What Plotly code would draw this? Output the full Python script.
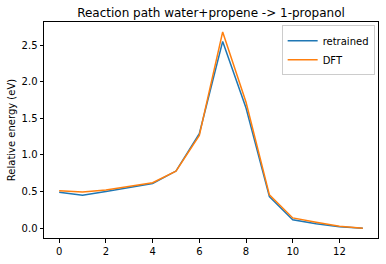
import plotly.graph_objects as go

steps = list(range(14))
retrained = [0.49, 0.45, 0.50, 0.56, 0.61, 0.78, 1.29, 2.55, 1.64, 0.43, 0.115, 0.06, 0.02, 0.0]
dft = [0.51, 0.495, 0.52, 0.57, 0.62, 0.78, 1.265, 2.68, 1.72, 0.455, 0.14, 0.08, 0.027, 0.0]
x_ticks = [0, 2, 4, 6, 8, 10, 12]
y_ticks = [0.0, 0.5, 1.0, 1.5, 2.0, 2.5]

fig = go.Figure()
fig.add_trace(go.Scatter(x=steps, y=retrained, mode="lines", name="retrained",
                         line=dict(color="#1f77b4", width=1.5)))
fig.add_trace(go.Scatter(x=steps, y=dft, mode="lines", name="DFT",
                         line=dict(color="#ff7f0e", width=1.5)))

axis_common = dict(showline=True, linecolor="black", linewidth=1, mirror=True,
                   ticks="outside", ticklen=3.5, tickwidth=1, tickcolor="black",
                   showgrid=False, zeroline=False,
                   tickfont=dict(family="DejaVu Sans", size=10, color="black"))

fig.update_layout(
    width=386, height=264,
    margin=dict(l=44, r=7, t=22, b=24),
    paper_bgcolor="white", plot_bgcolor="white",
    font=dict(family="DejaVu Sans", size=10, color="black"),
    title=dict(text="Reaction path water+propene -> 1-propanol",
               font=dict(family="DejaVu Sans", size=12, color="black"),
               x=0.5, xref="paper", xanchor="center",
               y=1 - 12.5 / 264, yref="container", yanchor="middle"),
    showlegend=True,
    legend=dict(x=0.99, y=0.985, xanchor="right", yanchor="top",
                bordercolor="#cccccc", borderwidth=1, bgcolor="rgba(255,255,255,0.8)",
                font=dict(family="DejaVu Sans", size=10, color="black"),
                itemwidth=30, tracegroupgap=0),
)
fig.update_xaxes(range=[-0.65, 13.65], tickvals=x_ticks, **axis_common)
fig.update_yaxes(range=[-0.134, 2.815], tickvals=y_ticks, tickformat=".1f",
                 title=dict(text="Relative energy (eV)", standoff=4,
                            font=dict(family="DejaVu Sans", size=10, color="black")),
                 **axis_common)

fig.write_html("out.html")
